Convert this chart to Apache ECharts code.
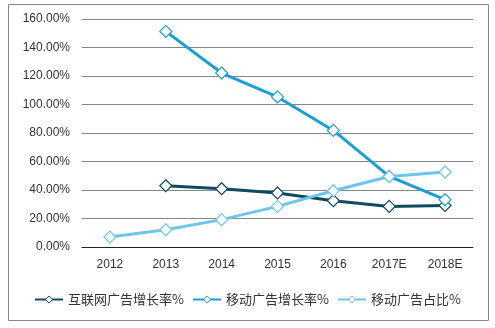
<!DOCTYPE html>
<html><head><meta charset="utf-8">
<script src="https://cdn.jsdelivr.net/npm/echarts@6/dist/echarts.min.js"></script>
<style>html,body{margin:0;padding:0;background:#fff}#c{width:495px;height:328px}</style>
</head><body><div id="c"></div>
<script>
const categories = ['2012','2013','2014','2015','2016','2017E','2018E'];
const internetGrowth = [null, 43.0, 40.9, 37.9, 32.5, 28.5, 29.2];
const mobileGrowth = [null, 151.3, 122.1, 105.3, 81.8, 49.5, 33.2];
const mobileShare = [7.0, 12.1, 19.2, 28.5, 39.5, 49.5, 52.6];
const seriesNames = ['互联网广告增长率%', '移动广告增长率%', '移动广告占比%'];
const colors = ['#0E4A62', '#1A9FD5', '#6CC6EC'];

const chart = echarts.init(document.getElementById('c'), null, {renderer:'canvas'});
function mk(name, data, color) {
  return {
    name, type:'line', data, connectNulls:false,
    symbol:'diamond', symbolSize:12,
    lineStyle:{color, width:3},
    itemStyle:{color:'#fff', borderColor:color, borderWidth:1.2},
    emphasis:{disabled:true}
  };
}
chart.setOption({
  animation:false,
  textStyle:{fontFamily:'Liberation Sans, Arial, sans-serif'},
  graphic:[{type:'rect', shape:{x:8.5,y:4.5,width:480,height:316}, style:{fill:'none', stroke:'#888', lineWidth:1}, silent:true}],
  grid:{left:82, right:22, top:19, bottom:81, containLabel:false},
  legend:{
    bottom:17, left:'center', itemWidth:28, itemHeight:9, itemGap:8,
    textStyle:{fontSize:13, color:'#333', fontFamily:'Noto Sans CJK SC, sans-serif'},
    data: seriesNames.map((n,i)=>({name:n, itemStyle:{color:'#fff', borderColor:colors[i], borderWidth:1}, lineStyle:{color:colors[i], width:2}}))
  },
  xAxis:{
    type:'category', data:categories, boundaryGap:true,
    axisLine:{lineStyle:{color:'#222', width:1}},
    axisTick:{show:false},
    axisLabel:{fontSize:12, color:'#333', margin:12}
  },
  yAxis:{
    type:'value', min:0, max:160, interval:20,
    axisLine:{show:false}, axisTick:{show:false},
    splitLine:{lineStyle:{color:'#888', width:1}},
    axisLabel:{fontSize:12, color:'#333', margin:12, formatter:v=>v.toFixed(2)+'%'}
  },
  series:[
    mk(seriesNames[0], internetGrowth, colors[0]),
    mk(seriesNames[1], mobileGrowth, colors[1]),
    mk(seriesNames[2], mobileShare, colors[2])
  ]
});
</script></body></html>
